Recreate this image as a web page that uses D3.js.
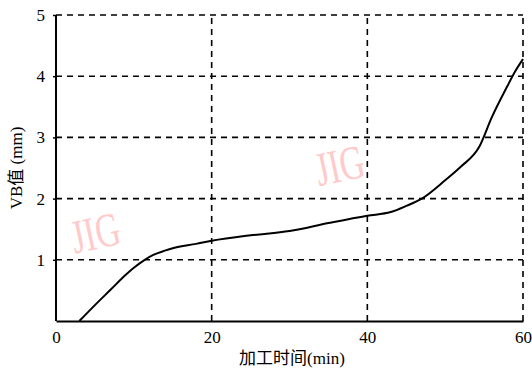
<!DOCTYPE html>
<html>
<head>
<meta charset="utf-8">
<script src="https://cdn.jsdelivr.net/npm/d3@7"></script>
<style>
  body { margin: 0; background: #fff; }
  text { font-family: "Liberation Serif", "Noto Sans CJK SC", serif; }
</style>
</head>
<body>
<div id="chart"></div>
<script>
// data
const timeMin = [3, 5, 7, 9, 10, 11.4, 12.5, 14, 15, 18, 20, 25, 30, 35, 40, 43, 45, 47, 50, 52, 54.4, 56, 58, 59, 60];
const vbValue = [0, 0.26, 0.51, 0.76, 0.87, 1.0, 1.08, 1.15, 1.19, 1.26, 1.31, 1.4, 1.47, 1.6, 1.72, 1.78, 1.88, 2.0, 2.3, 2.52, 2.85, 3.33, 3.84, 4.08, 4.28];
const xTicks = [0, 20, 40, 60];
const yTicks = [0, 1, 2, 3, 4, 5];

const width = 532, height = 372;
const margin = {left: 56, right: 9, top: 15, bottom: 51};

const svg = d3.select("#chart").append("svg")
    .attr("width", width).attr("height", height);

const x = d3.scaleLinear().domain([0, 60]).range([margin.left, width - margin.right]);
const y = d3.scaleLinear().domain([0, 5]).range([height - margin.bottom, margin.top]);

// grid
svg.append("g").selectAll("line")
    .data(yTicks.slice(1))
    .join("line")
    .attr("x1", x(0)).attr("x2", x(60))
    .attr("y1", d => y(d)).attr("y2", d => y(d))
    .attr("stroke", "#000").attr("stroke-width", 1.6)
    .attr("stroke-dasharray", "6,5");

svg.append("g").selectAll("line")
    .data(xTicks.slice(1))
    .join("line")
    .attr("x1", d => x(d)).attr("x2", d => x(d))
    .attr("y1", y(0)).attr("y2", y(5))
    .attr("stroke", "#000").attr("stroke-width", 1.6)
    .attr("stroke-dasharray", "6,5");

// watermarks
const marks = [[x(2.4), y(1.1)], [x(33.8), y(2.2)]];
svg.append("g").selectAll("text")
    .data(marks)
    .join("text")
    .attr("transform", d => `translate(${d[0]},${d[1]}) rotate(-12) scale(0.85,1.2)`)
    .attr("fill", "#ffcaca")
    .attr("font-size", 40)
    .text("JIG");

// axes
const xAxis = svg.append("g")
    .attr("transform", `translate(0,${y(0)})`)
    .call(d3.axisBottom(x).tickValues(xTicks).tickSize(0).tickPadding(10));
const yAxis = svg.append("g")
    .attr("transform", `translate(${x(0)},0)`)
    .call(d3.axisLeft(y).tickValues(yTicks.slice(1)).tickFormat(d3.format("d")).tickSize(3).tickPadding(8));

[xAxis, yAxis].forEach(a => {
    a.select(".domain").attr("stroke", "#000").attr("stroke-width", 2);
    a.selectAll("text").attr("font-size", 17).attr("fill", "#000")
        .style("font-family", "Liberation Serif");
    a.selectAll(".tick line").attr("stroke", "#000").attr("stroke-width", 1.5);
});
yAxis.select(".domain").attr("d", `M0,${y(5)}V${y(0)}`);

// curve
const line = d3.line()
    .x((d, i) => x(timeMin[i]))
    .y(d => y(d))
    .curve(d3.curveMonotoneX);
svg.append("path")
    .datum(vbValue)
    .attr("d", line)
    .attr("fill", "none")
    .attr("stroke", "#000")
    .attr("stroke-width", 2);

// labels
svg.append("text")
    .attr("x", 292).attr("y", 364)
    .attr("text-anchor", "middle").attr("font-size", 17)
    .text("加工时间(min)");
svg.append("text")
    .attr("transform", `translate(22,${y(2.5)}) rotate(-90)`)
    .attr("text-anchor", "middle").attr("font-size", 17)
    .text("VB值 (mm)");
</script>
</body>
</html>
